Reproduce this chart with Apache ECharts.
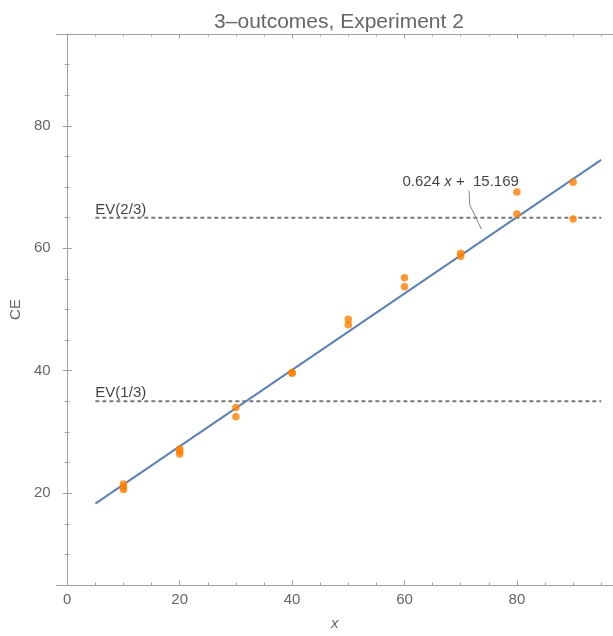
<!DOCTYPE html>
<html>
<head>
<meta charset="utf-8">
<script src="https://cdn.jsdelivr.net/npm/echarts@6/dist/echarts.min.js"></script>
<style>html,body{margin:0;padding:0;background:#fff}#c{width:613px;height:636px}</style>
</head>
<body>
<div id="c"></div>
<script>
// ---- data ----
const pointX = [10,10,10,20,20,20,30,30,40,40,50,50,60,60,70,70,80,80,90,90];
const pointCE = [21.5,21.0,20.6,27.2,26.8,26.4,34.0,32.5,39.7,39.6,48.4,47.5,55.2,53.7,59.2,58.7,69.2,65.6,70.8,64.8];
const fitX = [5, 95];
const fitY = [18.29, 74.45];
const evLevels = [35, 65];
const evNames = ['EV(1/3)', 'EV(2/3)'];
const evX = [5, 95];
const calloutX = [71.5, 71.6, 73.7];
const calloutY = [69.4, 67.1, 63.1];
const fitLabelPos = [70.0, 70.9];
const xMajor = [0, 20, 40, 60, 80];
const xMinor = [5,10,15,25,30,35,45,50,55,65,70,75,85,90,95];
const yMajor = [20, 40, 60, 80];
const yMinor = [10,15,25,30,35,45,50,55,65,70,75,85,90];

const axisCol = '#a0a0a0';
const labCol = '#666';
const FONT = 'Liberation Sans, Arial, sans-serif';

function xa(pos, ticks, len, labels, line) {
  return {
    type: 'value', position: pos, min: -1.9, max: 97.1,
    axisLine: {show: line, lineStyle: {color: axisCol, width: 1}},
    axisTick: {show: true, inside: true, length: len, customValues: ticks, lineStyle: {color: axisCol, width: 1}},
    axisLabel: labels ? {show: true, customValues: ticks, color: labCol, fontSize: 15, fontFamily: FONT, margin: 7} : {show: false},
    splitLine: {show: false}
  };
}
function ya(pos, ticks, len, labels, line) {
  return {
    type: 'value', position: pos, min: 5, max: 95,
    axisLine: {show: line, lineStyle: {color: axisCol, width: 1}},
    axisTick: {show: true, inside: true, length: len, customValues: ticks, lineStyle: {color: axisCol, width: 1}},
    axisLabel: labels ? {show: true, customValues: ticks, color: labCol, fontSize: 15, fontFamily: FONT, margin: 6} : {show: false},
    splitLine: {show: false}
  };
}

const xAxes = [xa('bottom', xMajor, 4.5, true, true), xa('bottom', xMinor, 2.5, false, false),
               xa('top', xMajor, 4.5, false, true), xa('top', xMinor, 2.5, false, false)];
xAxes[0].name = 'x';
xAxes[0].nameLocation = 'middle';
xAxes[0].nameGap = 31;
xAxes[0].nameTextStyle = {color: labCol, fontSize: 15, fontStyle: 'italic', fontFamily: FONT};

const yAxes = [ya('left', yMajor, 4.5, true, true), ya('left', yMinor, 2.5, false, false),
               ya('right', yMajor, 4.5, false, true), ya('right', yMinor, 2.5, false, false)];
yAxes[0].name = 'CE';
yAxes[0].nameLocation = 'middle';
yAxes[0].nameGap = 28;
yAxes[0].nameRotate = 90;
yAxes[0].nameTextStyle = {color: labCol, fontSize: 15, fontFamily: FONT};

const series = [];
evLevels.forEach((v, i) => {
  series.push({
    type: 'line', xAxisIndex: 0, yAxisIndex: 0, symbol: 'none', silent: true,
    data: evX.map(x => [x, v]),
    lineStyle: {color: '#777', width: 2, type: [4, 3]}, z: 2
  });
  series.push({
    type: 'scatter', xAxisIndex: 0, yAxisIndex: 0, symbolSize: 0, silent: true,
    data: [[evX[0], v]],
    label: {show: true, formatter: evNames[i], position: [0, -8], align: 'left', verticalAlign: 'middle',
            color: '#111', fontSize: 15, fontFamily: FONT}
  });
});
series.push({
  type: 'line', xAxisIndex: 0, yAxisIndex: 0, symbol: 'none', silent: true,
  data: fitX.map((x, i) => [x, fitY[i]]),
  lineStyle: {color: '#5E81B5', width: 2}, z: 3
});
series.push({
  type: 'scatter', xAxisIndex: 0, yAxisIndex: 0, symbolSize: 7.5, silent: true,
  data: pointX.map((x, i) => [x, pointCE[i]]),
  itemStyle: {color: '#ff8000'}, z: 4
});
series.push({
  type: 'line', xAxisIndex: 0, yAxisIndex: 0, symbol: 'none', silent: true,
  data: calloutX.map((x, i) => [x, calloutY[i]]),
  lineStyle: {color: '#888', width: 1}, z: 3
});
series.push({
  type: 'scatter', xAxisIndex: 0, yAxisIndex: 0, symbolSize: 0, silent: true,
  data: [fitLabelPos],
  label: {show: true, position: [0, 0], align: 'center', verticalAlign: 'middle',
          formatter: '{a|0.624 }{i|x}{a| +  15.169}',
          rich: {a: {color: '#111', fontSize: 15, fontFamily: FONT},
                 i: {color: '#111', fontSize: 15, fontFamily: FONT, fontStyle: 'italic'}}}
});

const chart = echarts.init(document.getElementById('c'), null, {renderer: 'canvas'});
chart.setOption({
  animation: false,
  backgroundColor: '#fff',
  title: {text: '3\u2013outcomes, Experiment 2', left: 334, top: 7, textAlign: 'center',
          textStyle: {color: '#666', fontSize: 21, fontWeight: 'normal', fontFamily: FONT}},
  grid: {left: 55, top: 34, width: 560, height: 559, containLabel: false},
  xAxis: xAxes,
  yAxis: yAxes,
  series: series
});
</script>
</body>
</html>
